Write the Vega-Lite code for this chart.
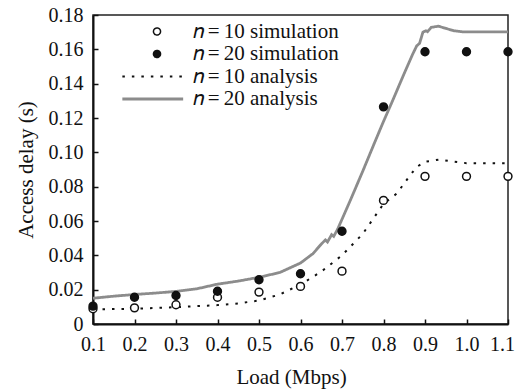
{
  "$schema": "https://vega.github.io/schema/vega-lite/v6.json",
  "width": 415,
  "height": 309,
  "autosize": {"type": "none"},
  "padding": {"left": 93, "top": 15, "right": 10, "bottom": 68},
  "background": "white",
  "config": {
    "font": "Liberation Serif",
    "view": {"stroke": "#222222", "strokeWidth": 1.5},
    "axis": {
      "labelFont": "Liberation Serif",
      "titleFont": "Liberation Serif",
      "labelColor": "#111111",
      "titleColor": "#111111",
      "titleFontWeight": "normal",
      "domainColor": "#111111",
      "domainWidth": 2,
      "tickColor": "#111111",
      "tickWidth": 1.5,
      "tickSize": -5,
      "labelPadding": 15,
      "labelFlush": false,
      "grid": false
    }
  },
  "data": {
    "values": [
      {"series": "n=10 simulation", "load": 0.1, "delay": 0.0089},
      {"series": "n=10 simulation", "load": 0.2, "delay": 0.0094},
      {"series": "n=10 simulation", "load": 0.3, "delay": 0.0112},
      {"series": "n=10 simulation", "load": 0.4, "delay": 0.0156},
      {"series": "n=10 simulation", "load": 0.5, "delay": 0.0186},
      {"series": "n=10 simulation", "load": 0.6, "delay": 0.0219},
      {"series": "n=10 simulation", "load": 0.7, "delay": 0.0308},
      {"series": "n=10 simulation", "load": 0.8, "delay": 0.072},
      {"series": "n=10 simulation", "load": 0.9, "delay": 0.086},
      {"series": "n=10 simulation", "load": 1.0, "delay": 0.086},
      {"series": "n=10 simulation", "load": 1.1, "delay": 0.086},
      {"series": "n=20 simulation", "load": 0.1, "delay": 0.0104},
      {"series": "n=20 simulation", "load": 0.2, "delay": 0.0156},
      {"series": "n=20 simulation", "load": 0.3, "delay": 0.0166},
      {"series": "n=20 simulation", "load": 0.4, "delay": 0.0191},
      {"series": "n=20 simulation", "load": 0.5, "delay": 0.0258},
      {"series": "n=20 simulation", "load": 0.6, "delay": 0.0293},
      {"series": "n=20 simulation", "load": 0.7, "delay": 0.054},
      {"series": "n=20 simulation", "load": 0.8, "delay": 0.1265},
      {"series": "n=20 simulation", "load": 0.9, "delay": 0.1586},
      {"series": "n=20 simulation", "load": 1.0, "delay": 0.1586},
      {"series": "n=20 simulation", "load": 1.1, "delay": 0.1586},
      {"series": "n=10 analysis", "load": 0.1, "delay": 0.0085},
      {"series": "n=10 analysis", "load": 0.2, "delay": 0.0089},
      {"series": "n=10 analysis", "load": 0.3, "delay": 0.0098},
      {"series": "n=10 analysis", "load": 0.4, "delay": 0.011},
      {"series": "n=10 analysis", "load": 0.45, "delay": 0.012},
      {"series": "n=10 analysis", "load": 0.5, "delay": 0.0137},
      {"series": "n=10 analysis", "load": 0.55, "delay": 0.0172},
      {"series": "n=10 analysis", "load": 0.6, "delay": 0.023},
      {"series": "n=10 analysis", "load": 0.65, "delay": 0.0305},
      {"series": "n=10 analysis", "load": 0.7, "delay": 0.04},
      {"series": "n=10 analysis", "load": 0.75, "delay": 0.0525},
      {"series": "n=10 analysis", "load": 0.8, "delay": 0.07},
      {"series": "n=10 analysis", "load": 0.832, "delay": 0.076},
      {"series": "n=10 analysis", "load": 0.864, "delay": 0.0866},
      {"series": "n=10 analysis", "load": 0.88, "delay": 0.0915},
      {"series": "n=10 analysis", "load": 0.9, "delay": 0.0945},
      {"series": "n=10 analysis", "load": 0.935, "delay": 0.0958},
      {"series": "n=10 analysis", "load": 0.965, "delay": 0.0947},
      {"series": "n=10 analysis", "load": 1.0, "delay": 0.0937},
      {"series": "n=10 analysis", "load": 1.1, "delay": 0.0937},
      {"series": "n=20 analysis", "load": 0.1, "delay": 0.015},
      {"series": "n=20 analysis", "load": 0.15, "delay": 0.0162},
      {"series": "n=20 analysis", "load": 0.2, "delay": 0.0172},
      {"series": "n=20 analysis", "load": 0.25, "delay": 0.018},
      {"series": "n=20 analysis", "load": 0.3, "delay": 0.019},
      {"series": "n=20 analysis", "load": 0.35, "delay": 0.0205},
      {"series": "n=20 analysis", "load": 0.4, "delay": 0.0232},
      {"series": "n=20 analysis", "load": 0.45, "delay": 0.025},
      {"series": "n=20 analysis", "load": 0.5, "delay": 0.0272},
      {"series": "n=20 analysis", "load": 0.55, "delay": 0.03},
      {"series": "n=20 analysis", "load": 0.6, "delay": 0.0355},
      {"series": "n=20 analysis", "load": 0.63, "delay": 0.041},
      {"series": "n=20 analysis", "load": 0.65, "delay": 0.0465},
      {"series": "n=20 analysis", "load": 0.66, "delay": 0.049},
      {"series": "n=20 analysis", "load": 0.665, "delay": 0.0478},
      {"series": "n=20 analysis", "load": 0.675, "delay": 0.052},
      {"series": "n=20 analysis", "load": 0.68, "delay": 0.051},
      {"series": "n=20 analysis", "load": 0.69, "delay": 0.0555},
      {"series": "n=20 analysis", "load": 0.7, "delay": 0.061},
      {"series": "n=20 analysis", "load": 0.72, "delay": 0.072},
      {"series": "n=20 analysis", "load": 0.75, "delay": 0.089},
      {"series": "n=20 analysis", "load": 0.78, "delay": 0.1065},
      {"series": "n=20 analysis", "load": 0.8, "delay": 0.118},
      {"series": "n=20 analysis", "load": 0.82, "delay": 0.129},
      {"series": "n=20 analysis", "load": 0.85, "delay": 0.146},
      {"series": "n=20 analysis", "load": 0.87, "delay": 0.157},
      {"series": "n=20 analysis", "load": 0.88, "delay": 0.162},
      {"series": "n=20 analysis", "load": 0.887, "delay": 0.1635},
      {"series": "n=20 analysis", "load": 0.895, "delay": 0.17},
      {"series": "n=20 analysis", "load": 0.902, "delay": 0.1708},
      {"series": "n=20 analysis", "load": 0.906, "delay": 0.1703},
      {"series": "n=20 analysis", "load": 0.915, "delay": 0.1728},
      {"series": "n=20 analysis", "load": 0.932, "delay": 0.1735},
      {"series": "n=20 analysis", "load": 0.95, "delay": 0.1722},
      {"series": "n=20 analysis", "load": 0.97, "delay": 0.1708},
      {"series": "n=20 analysis", "load": 0.99, "delay": 0.1702},
      {"series": "n=20 analysis", "load": 1.1, "delay": 0.1702}
    ]
  },
  "encoding": {
    "x": {
      "field": "load",
      "type": "quantitative",
      "scale": {"domain": [0.1, 1.1], "nice": false, "zero": false},
      "axis": {
        "title": "Load (Mbps)",
        "values": [0.1, 0.2, 0.3, 0.4, 0.5, 0.6, 0.7, 0.8, 0.9, 1.0, 1.1],
        "format": ".1f",
        "labelFontSize": 20,
        "labelOffset": {"condition": {"test": "datum.value > 1.05", "value": -6}, "value": 0},
        "titleFontSize": 21,
        "titlePadding": 12,
        "titleX": 198
      }
    },
    "y": {
      "field": "delay",
      "type": "quantitative",
      "scale": {"domain": [0, 0.18], "nice": false},
      "axis": {
        "title": "Access delay (s)",
        "values": [0, 0.02, 0.04, 0.06, 0.08, 0.1, 0.12, 0.14, 0.16, 0.18],
        "labelExpr": "datum.value == 0 ? '0' : format(datum.value, '.2f')",
        "labelFontSize": 20,
        "titleFontSize": 21,
        "titlePadding": 12
      }
    },
    "stroke": {
      "field": "series",
      "type": "nominal",
      "scale": {
        "domain": ["n=10 simulation", "n=20 simulation", "n=10 analysis", "n=20 analysis"],
        "range": ["#111111", "#111111", "#111111", "#8c8c8c"]
      },
      "legend": {
        "title": null,
        "orient": "none",
        "legendX": 53.5,
        "legendY": 6,
        "padding": 0,
        "rowPadding": 0.5,
        "symbolSize": 50,
        "labelOffset": 25,
        "labelFont": "Liberation Serif",
        "labelFontSize": 21,
        "labelColor": "#111111",
        "labelExpr": "'𝑛\u2009=\u2009' + slice(datum.label, 2)",
        "encode": {
          "symbols": {
            "update": {
              "shape": {"signal": "indexof(datum.value, 'analysis') >= 0 ? 'M-9.8,0H7.4' : 'circle'"},
              "fill": {"signal": "datum.value == 'n=20 simulation' ? '#111111' : datum.value == 'n=10 simulation' ? 'white' : 'transparent'"},
              "stroke": {"signal": "datum.value == 'n=20 analysis' ? '#8c8c8c' : '#111111'"},
              "strokeDash": {"signal": "datum.value == 'n=10 analysis' ? [2.5, 7] : [1, 0]"},
              "strokeWidth": {"signal": "datum.value == 'n=20 analysis' ? 2.8 : datum.value == 'n=10 analysis' ? 2 : 1.5"},
              "size": {"value": 50},
              "opacity": {"value": 1}
            }
          }
        }
      }
    }
  },
  "layer": [
    {
      "transform": [{"filter": "indexof(datum.series, 'analysis') >= 0"}],
      "mark": {"type": "line", "interpolate": "linear"},
      "encoding": {
        "strokeDash": {
          "field": "series",
          "type": "nominal",
          "scale": {"domain": ["n=10 analysis", "n=20 analysis"], "range": [[2.5, 7], [1, 0]]},
          "legend": null
        },
        "strokeWidth": {
          "field": "series",
          "type": "nominal",
          "scale": {"domain": ["n=10 analysis", "n=20 analysis"], "range": [2, 2.8]},
          "legend": null
        }
      }
    },
    {
      "transform": [{"filter": "indexof(datum.series, 'simulation') >= 0"}],
      "mark": {"type": "point", "shape": "circle", "size": 62, "strokeWidth": 1.5, "opacity": 1},
      "encoding": {
        "fill": {
          "field": "series",
          "type": "nominal",
          "scale": {"domain": ["n=10 simulation", "n=20 simulation"], "range": ["white", "#111111"]},
          "legend": null
        }
      }
    }
  ]
}
